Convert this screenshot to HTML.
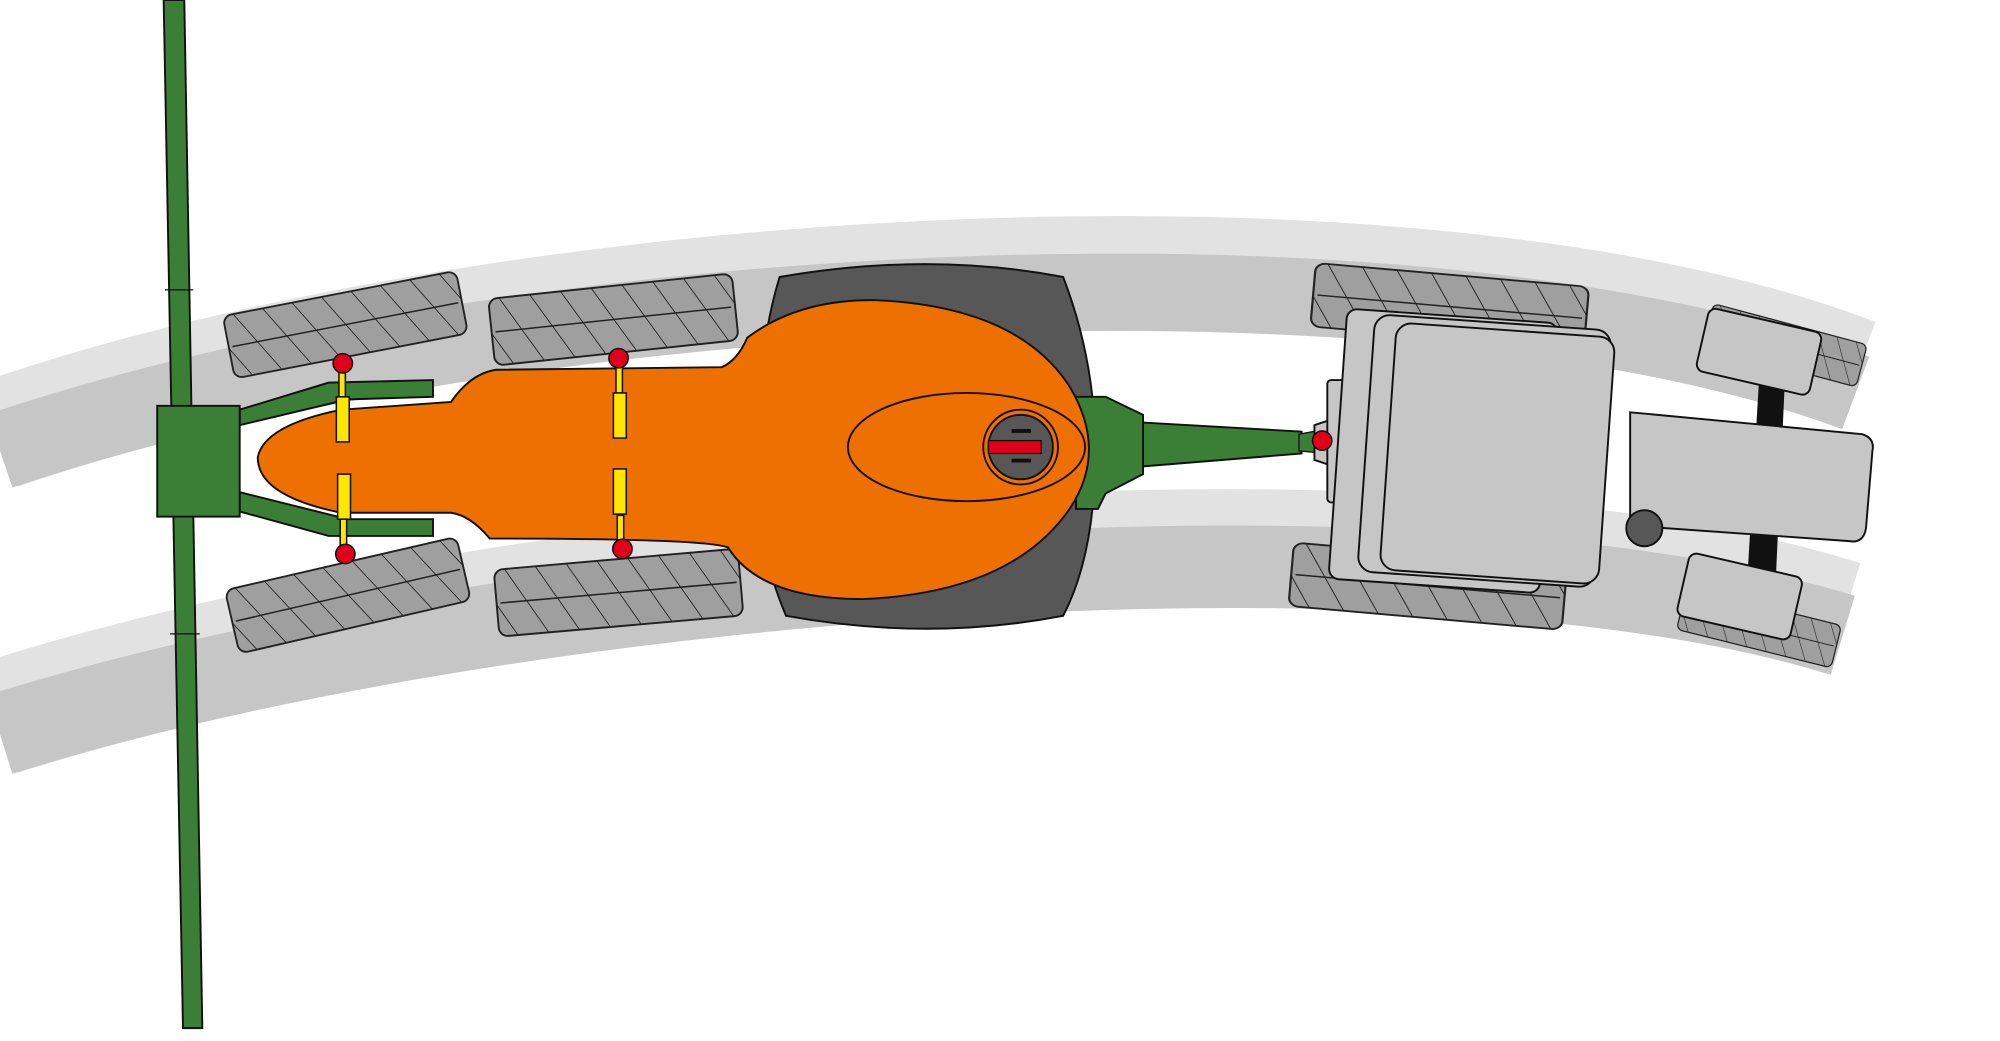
<!DOCTYPE html>
<html><head><meta charset="utf-8"><style>html,body{margin:0;padding:0;background:#fff}svg{display:block}</style></head>
<body>
<svg width="2000" height="1041" viewBox="0 0 1552 808" preserveAspectRatio="none" xmlns="http://www.w3.org/2000/svg">
<defs>
<pattern id="h" width="24" height="60" patternUnits="userSpaceOnUse" patternTransform="skewX(30)">
<rect width="24" height="60" fill="#9f9f9f"/><line x1="0" y1="0" x2="0" y2="60" stroke="#222" stroke-width="1.6"/>
</pattern>
<g id="trk">
<rect x="-95" y="-26" width="190" height="52" rx="7" fill="url(#h)" stroke="#222" stroke-width="1.5"/>
<line x1="-92" y1="0" x2="92" y2="0" stroke="#222" stroke-width="1.2"/>
</g>
</defs>
<rect width="1552" height="808" fill="#fff"/>
<path d="M0,337 C400,200 1100,160 1440,290" fill="none" stroke="#e2e2e2" stroke-width="86"/>
<path d="M0,350 C400,215 1100,178 1440,305" fill="none" stroke="#c5c6c5" stroke-width="60"/>
<path d="M0,557 C400,430 1100,375 1430,480" fill="none" stroke="#e2e2e2" stroke-width="90"/>
<path d="M0,570 C400,445 1100,392 1430,493" fill="none" stroke="#c5c6c5" stroke-width="64"/>
<use href="#trk" transform="translate(268,252) rotate(-11) scale(0.97,0.95)"/>
<use href="#trk" transform="translate(476,248) rotate(-6)"/>
<use href="#trk" transform="translate(270,462) rotate(-13) scale(0.97,0.97)"/>
<use href="#trk" transform="translate(480,460) rotate(-5)"/>
<use href="#trk" transform="translate(1125,238) rotate(5) scale(1.12,0.95)"/>
<use href="#trk" transform="translate(1108,455) rotate(5) scale(1.12,0.95)"/>
<use href="#trk" transform="translate(1385,268) rotate(15) scale(0.65,0.65)"/>
<use href="#trk" transform="translate(1365,487) rotate(14) scale(0.65,0.65)"/>
<polygon points="127,0 143,0 157,798 142,798" fill="#3a7f35" stroke="#111" stroke-width="1.5"/>
<line x1="128" y1="225" x2="150" y2="225" stroke="#111"/><line x1="132" y1="492" x2="155" y2="492" stroke="#111"/>
<polygon points="186,318 255,297 336,295 336,308 270,310 186,330" fill="#3a7f35" stroke="#111" stroke-width="1.5"/>
<polygon points="186,382 270,403 336,403 336,416 255,416 186,397" fill="#3a7f35" stroke="#111" stroke-width="1.5"/>
<rect x="122" y="315" width="64" height="86" fill="#3a7f35" stroke="#111" stroke-width="1.5"/>
<path d="M605,215 Q720,195 825,215 Q850,280 850,350 Q850,430 825,478 Q720,498 610,478 Q585,420 588,350 Q588,270 605,215Z" fill="#575757" stroke="#111" stroke-width="1.5"/>
<polygon points="835,308 858,308 887,322 887,368 858,383 852,395 835,395" fill="#3a7f35" stroke="#111" stroke-width="1.5"/>
<polygon points="887,328 1010,335 1010,352 887,362" fill="#3a7f35" stroke="#111" stroke-width="1.5"/>
<polygon points="1008,337 1030,333 1030,352 1008,350" fill="#3a7f35" stroke="#111" stroke-width="1"/>
<path d="M580,262 Q620,232 680,233 Q790,238 830,300 Q860,350 830,395 Q785,460 670,465 Q590,465 565,425 Q550,418 380,418 Q365,400 350,398 L265,398 Q200,385 200,355 Q205,330 265,318 L350,312 Q365,290 385,287 Q530,285 560,285 Q572,280 580,262Z" fill="#ee7000" stroke="#111" stroke-width="1.5"/>
<ellipse cx="750" cy="347" rx="92" ry="42" fill="none" stroke="#111" stroke-width="1.5"/>
<circle cx="792" cy="347" r="29" fill="#ee7000" stroke="#111" stroke-width="1.5"/>
<circle cx="792" cy="347" r="25" fill="#575757" stroke="#111" stroke-width="1.5"/>
<rect x="767" y="342" width="41" height="10" fill="#e0001a" stroke="#111"/>
<rect x="785" y="333" width="15" height="3" fill="#111"/><rect x="785" y="356" width="15" height="3" fill="#111"/>
<g fill="#ffe600" stroke="#111" stroke-width="1.2">
<rect x="263" y="288" width="5" height="20"/><rect x="261" y="308" width="10" height="35"/><rect x="262" y="368" width="10" height="35"/><rect x="264" y="403" width="5" height="20"/>
<rect x="478" y="285" width="5" height="20"/><rect x="476" y="305" width="10" height="35"/><rect x="476" y="364" width="10" height="35"/><rect x="479" y="400" width="5" height="20"/>
</g>
<g fill="#e0001a" stroke="#111" stroke-width="1.2">
<circle cx="266" cy="282" r="7.5"/><circle cx="268" cy="430" r="7.5"/><circle cx="480" cy="278" r="7.5"/><circle cx="483" cy="426" r="7.5"/>
</g>
<polygon points="1365,295 1385,297 1378,450 1356,448" fill="#111"/>
<path d="M1265,320 L1445,337 Q1455,340 1453,350 L1448,410 Q1446,422 1435,420 L1265,408Z" fill="#c5c6c5" stroke="#111" stroke-width="1.5"/>
<g fill="#c5c6c5" stroke="#111" stroke-width="1.5">
<rect x="-45" y="-25" width="90" height="50" rx="6" transform="translate(1365,273) rotate(13)"/>
<rect x="-45" y="-25" width="90" height="50" rx="6" transform="translate(1350,463) rotate(13)"/>
<polygon points="1020,330 1035,325 1035,362 1020,357"/>
<rect x="1030" y="295" width="35" height="95" rx="3"/>
<rect x="-82" y="-105" width="164" height="210" rx="8" transform="translate(1120,350) rotate(4)"/>
<rect x="-92" y="-100" width="184" height="200" rx="12" transform="translate(1152,350) rotate(4)"/>
<rect x="-85" y="-96" width="170" height="192" rx="12" transform="translate(1162,352) rotate(4)"/>
</g>
<circle cx="1276" cy="410" r="14" fill="#575757" stroke="#111" stroke-width="1.5"/>
<circle cx="1026" cy="342" r="7.5" fill="#e0001a" stroke="#111" stroke-width="1.2"/>
</svg>
</body></html>
